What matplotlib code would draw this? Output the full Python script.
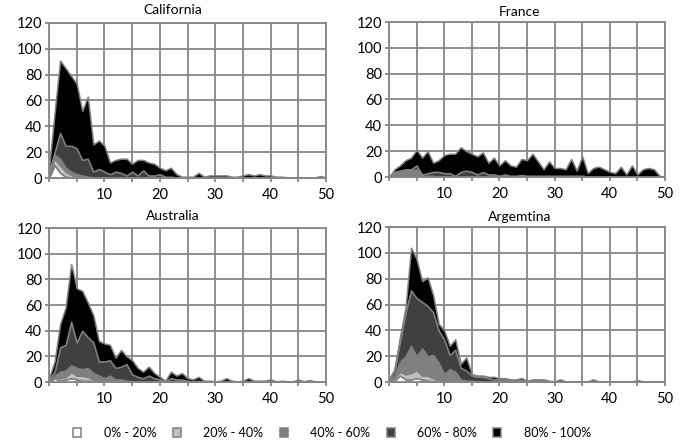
import numpy as np
import matplotlib
matplotlib.use("Agg")
import matplotlib.pyplot as plt
from matplotlib.patches import Patch

plt.rcParams['font.family'] = ['Lato', 'DejaVu Sans']

x = np.arange(51)

band_labels = ['0% - 20%', '20% - 40%', '40% - 60%', '60% - 80%', '80% - 100%']
band_colors = ['#ffffff', '#c0c0c0', '#808080', '#404040', '#000000']
edge_grey = '#7f7f7f'
grid_grey = '#868686'

# cumulative tops of each band (bottom band first)
cal_upto20 = [0, 10, 4, 1, 0.5]
cal_upto40 = [1, 15, 10, 5, 2.5, 1]
cal_upto60 = [3, 18, 15, 8, 5, 3, 2, 1, 0.5]
cal_upto80 = [5, 20, 35, 25, 25, 23, 14, 15, 5, 7, 5, 3, 5, 4, 2, 5, 2, 6, 2, 2,
              3, 1, 1, 0.5, 0.5, 0.5]
cal_total = [8, 50, 91, 85, 79, 73, 52, 63, 26, 29, 25, 12, 14, 15, 15, 11, 14, 14, 12, 11,
             8, 6, 8, 3, 1, 1, 1, 4, 1, 2, 2, 2, 2, 1, 1, 2, 3, 2, 3, 2,
             2, 1, 1, 0.5, 0.5, 0.5, 0.5, 0.5, 0.5, 1.5, 0.5]

fr_upto20 = [0, 1, 0.5]
fr_upto40 = [0, 2, 1.5, 1, 1, 1]
fr_upto60 = [0, 3, 4, 5, 5, 6, 1, 1, 1]
fr_upto80 = [0, 4, 5, 6, 6, 9, 2, 3, 4, 4, 3, 3, 1, 4, 5, 4, 2, 4, 2, 2,
             1, 2, 1, 1, 1.5, 1, 1, 1, 1, 1, 1, 1, 1, 1, 1, 1, 0.5]
fr_total = [0, 6, 9, 13, 15, 21, 15, 20, 11, 13, 17, 18, 18, 23, 20, 18, 16, 19, 11, 15,
            9, 13, 9, 8, 14, 13, 18, 12, 6, 12, 7, 7, 6, 14, 5, 16, 3, 7, 8, 6,
            4, 3, 8, 2, 9, 2, 6, 7, 6, 1, 0]

au_upto20 = [0, 3, 1, 2, 3, 2, 1, 1, 0.5]
au_upto40 = [0.5, 4, 3, 4, 8, 5, 5, 4, 2, 1, 0.5, 2, 0.5]
au_upto60 = [1, 5, 8, 9, 13, 11, 10, 11, 7, 5, 3, 5, 2, 2, 1, 0.5]
au_upto80 = [2, 8, 27, 29, 47, 31, 40, 35, 31, 16, 16, 17, 11, 12, 14, 6, 4, 3, 5, 3,
             2, 0.5, 3, 2, 2, 1, 0.5, 1, 0.5]
au_total = [3, 16, 45, 58, 92, 73, 71, 62, 52, 32, 30, 29, 19, 25, 20, 17, 11, 8, 12, 7,
            4, 1, 8, 5, 7, 3, 2, 4, 1, 1, 0.5, 1, 3, 1, 0.5, 1, 3, 1, 1, 1,
            2, 0.5, 1, 0.5, 0.5, 2, 0.5, 1.5, 0.5, 0.5, 0.5]

ar_upto20 = [0, 1, 5, 2, 2, 3, 2, 1, 0.5]
ar_upto40 = [0.5, 3, 8, 6, 7, 9, 5, 5, 3, 1, 0.5, 2, 0.5]
ar_upto60 = [1, 5, 16, 20, 28, 20, 26, 20, 21, 15, 6, 10, 8, 2, 1, 1, 0.5]
ar_upto80 = [2, 9, 32, 54, 71, 65, 62, 59, 54, 40, 33, 21, 25, 11, 9, 5, 4, 4, 3, 2,
             2, 2, 1, 1, 1.5, 0.5, 1, 1, 1, 0.5]
ar_total = [2, 10, 35, 58, 104, 95, 78, 81, 67, 45, 40, 28, 33, 14, 19, 6, 5, 5, 4, 4,
            3, 3, 2, 2, 3, 1, 2, 2, 2, 1, 0.5, 2, 0.5, 0.5, 0.5, 0.5, 0.5, 2, 0.5, 0.5,
            0.5, 0.5, 0.5, 0.5, 0.5, 1.5, 0.5, 0.5, 0.5, 0.5, 0.5]

panels = [
    ('California', [cal_upto20, cal_upto40, cal_upto60, cal_upto80, cal_total]),
    ('France', [fr_upto20, fr_upto40, fr_upto60, fr_upto80, fr_total]),
    ('Australia', [au_upto20, au_upto40, au_upto60, au_upto80, au_total]),
    ('Argemtina', [ar_upto20, ar_upto40, ar_upto60, ar_upto80, ar_total]),
]


def pad(vals, n=51):
    vals = np.asarray(vals, dtype=float)
    return np.concatenate([vals, np.zeros(n - len(vals))])


def band_heights(levels):
    lv = np.vstack([pad(l) for l in levels])
    lv = np.maximum.accumulate(lv, axis=0)
    return np.diff(np.vstack([np.zeros(lv.shape[1]), lv]), axis=0)


# axes rectangles in pixels (left, right, top, bottom) plus title centre
W, H = 692, 444
boxes = [
    (49, 326, 23, 178, 173, 10),
    (389, 665, 22, 177, 520, 12),
    (49, 326, 228, 382, 173, 216),
    (389, 665, 227, 382, 520, 217),
]

fig = plt.figure(figsize=(W / 100, H / 100), dpi=100)

for (name, levels), (x0, x1, y0, y1, tx, ty) in zip(panels, boxes):
    ax = fig.add_axes([x0 / W, 1 - y1 / H, (x1 - x0) / W, (y1 - y0) / H])
    ax.stackplot(x, *band_heights(levels), colors=band_colors,
                 edgecolor=edge_grey, linewidth=1.1)
    ax.set_xlim(0, 50)
    ax.set_ylim(0, 120)
    ax.set_xticks(np.arange(0, 51, 5))
    ax.set_xticklabels([str(v) if v % 10 == 0 and v > 0 else '' for v in range(0, 51, 5)])
    ax.set_yticks(np.arange(0, 121, 20))
    ax.set_axisbelow(True)
    ax.grid(True, color=grid_grey, linewidth=1.3)
    for sp in ax.spines.values():
        sp.set_color(grid_grey)
        sp.set_linewidth(1.3)
    ax.tick_params(axis='both', direction='out', length=3, width=1.3,
                   color=grid_grey, labelsize=10.5, labelcolor='black')
    ax.tick_params(axis='x', pad=4)
    ax.tick_params(axis='y', pad=2)
    fig.text(tx / W, 1 - ty / H, name, ha='center', va='center', fontsize=10)

handles = [Patch(facecolor=c, edgecolor=edge_grey, linewidth=1.1) for c in band_colors]
fig.legend(handles, band_labels, loc='center', bbox_to_anchor=(0.480, 1 - 433 / H),
           ncol=5, frameon=False, fontsize=9, handlelength=0.65, handleheight=0.65,
           handletextpad=1.8, columnspacing=1.3)

fig.savefig('out.png', dpi=100, facecolor='white')
